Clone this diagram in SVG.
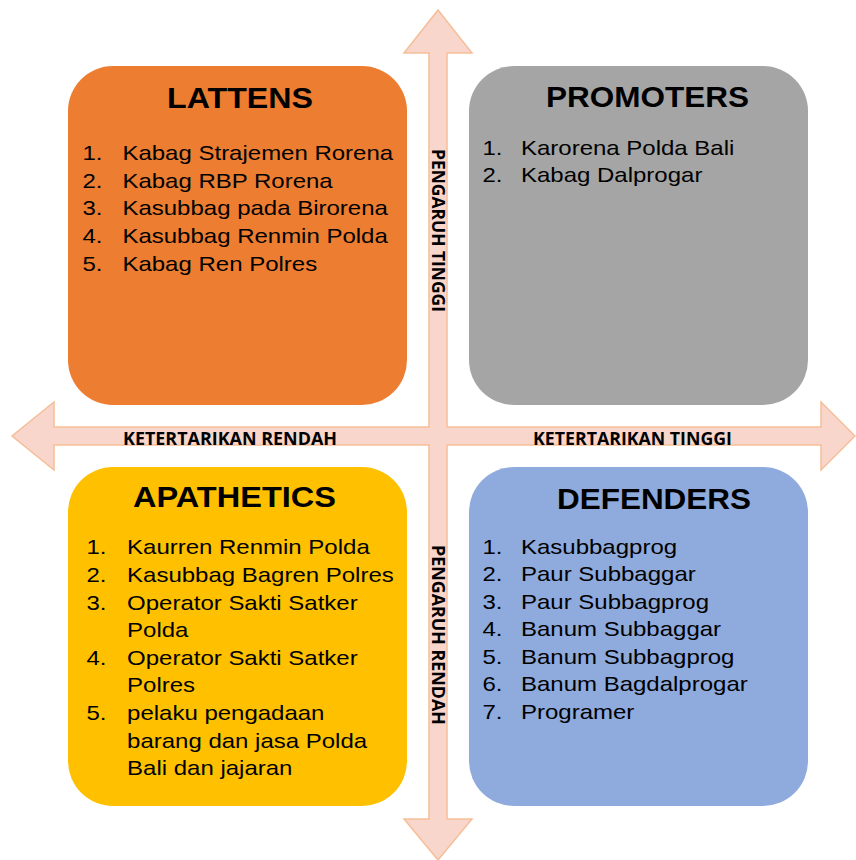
<svg xmlns="http://www.w3.org/2000/svg" width="856" height="860" viewBox="0 0 856 860">
<style>
.box{stroke:none}
.title{font-family:"Liberation Sans",Arial,sans-serif;font-weight:bold;font-size:29px;fill:#000;text-anchor:middle}
.li{font-family:"Liberation Sans",Arial,sans-serif;font-size:20px;fill:#000}
.ax{font-family:"Open Sans","Liberation Sans",sans-serif;font-weight:bold;font-size:17px;fill:#000}
</style>
<rect width="856" height="860" fill="#fff"/>
<g id="connectors">
<polygon points="438,10 472,53 447,53 447,427 821,427 821,402 855,436 821,470 821,445 447,445 447,819 472,819 438,860 404,819 429,819 429,445 54,445 54,470 12,436 54,402 54,427 429,427 429,53 404,53" fill="#F8D6CB" stroke="#F6BE98" stroke-width="1.5" stroke-linejoin="miter"/>
<text class="ax" x="123" y="445" textLength="214" lengthAdjust="spacingAndGlyphs">KETERTARIKAN RENDAH</text>
<text class="ax" x="533" y="445" textLength="199" lengthAdjust="spacingAndGlyphs">KETERTARIKAN TINGGI</text>
<text class="ax" transform="translate(432,149) rotate(90)" x="0" y="0" textLength="163" lengthAdjust="spacingAndGlyphs">PENGARUH TINGGI</text>
<text class="ax" transform="translate(432,545) rotate(90)" x="0" y="0" textLength="180" lengthAdjust="spacingAndGlyphs">PENGARUH RENDAH</text>
</g>
<g id="lattens">
<rect class="box" x="68" y="66" width="339" height="339" rx="45" fill="#ED7D31"/>
<text class="title" x="240" y="108" textLength="146" lengthAdjust="spacingAndGlyphs">LATTENS</text>
<g transform="translate(82.5,0) scale(1.2,1)">
<text class="li" x="0" y="160">1.</text><text class="li" x="33.3" y="160">Kabag Strajemen Rorena</text>
<text class="li" x="0" y="188">2.</text><text class="li" x="33.3" y="188">Kabag RBP Rorena</text>
<text class="li" x="0" y="215.5">3.</text><text class="li" x="33.3" y="215.5">Kasubbag pada Birorena</text>
<text class="li" x="0" y="243.5">4.</text><text class="li" x="33.3" y="243.5">Kasubbag Renmin Polda</text>
<text class="li" x="0" y="271">5.</text><text class="li" x="33.3" y="271">Kabag Ren Polres</text>
</g>
</g>
<g id="promoters">
<rect class="box" x="469" y="66" width="339" height="339" rx="45" fill="#A5A5A5"/>
<text class="title" x="647.5" y="107" textLength="203" lengthAdjust="spacingAndGlyphs">PROMOTERS</text>
<g transform="translate(482.5,0) scale(1.2,1)">
<text class="li" x="0" y="155">1.</text><text class="li" x="32.1" y="155">Karorena Polda Bali</text>
<text class="li" x="0" y="182.5">2.</text><text class="li" x="32.1" y="182.5">Kabag Dalprogar</text>
</g>
</g>
<g id="apathetics">
<rect class="box" x="68" y="467" width="339" height="339" rx="45" fill="#FFC000"/>
<text class="title" x="234.5" y="507" textLength="203" lengthAdjust="spacingAndGlyphs">APATHETICS</text>
<g transform="translate(86.5,0) scale(1.2,1)">
<text class="li" x="0" y="554">1.</text><text class="li" x="33.8" y="554">Kaurren Renmin Polda</text>
<text class="li" x="0" y="582">2.</text><text class="li" x="33.8" y="582">Kasubbag Bagren Polres</text>
<text class="li" x="0" y="610">3.</text><text class="li" x="33.8" y="610">Operator Sakti Satker</text>
<text class="li" x="33.8" y="637">Polda</text>
<text class="li" x="0" y="665">4.</text><text class="li" x="33.8" y="665">Operator Sakti Satker</text>
<text class="li" x="33.8" y="692">Polres</text>
<text class="li" x="0" y="720">5.</text><text class="li" x="33.8" y="720">pelaku pengadaan</text>
<text class="li" x="33.8" y="748">barang dan jasa Polda</text>
<text class="li" x="33.8" y="775">Bali dan jajaran</text>
</g>
</g>
<g id="defenders">
<rect class="box" x="469" y="467" width="339" height="339" rx="45" fill="#8FAADC"/>
<text class="title" x="654" y="509" textLength="194" lengthAdjust="spacingAndGlyphs">DEFENDERS</text>
<g transform="translate(482.5,0) scale(1.2,1)">
<text class="li" x="0" y="554">1.</text><text class="li" x="32.1" y="554">Kasubbagprog</text>
<text class="li" x="0" y="581.5">2.</text><text class="li" x="32.1" y="581.5">Paur Subbaggar</text>
<text class="li" x="0" y="609">3.</text><text class="li" x="32.1" y="609">Paur Subbagprog</text>
<text class="li" x="0" y="636.5">4.</text><text class="li" x="32.1" y="636.5">Banum Subbaggar</text>
<text class="li" x="0" y="664">5.</text><text class="li" x="32.1" y="664">Banum Subbagprog</text>
<text class="li" x="0" y="691.5">6.</text><text class="li" x="32.1" y="691.5">Banum Bagdalprogar</text>
<text class="li" x="0" y="719">7.</text><text class="li" x="32.1" y="719">Programer</text>
</g>
</g>
</svg>
